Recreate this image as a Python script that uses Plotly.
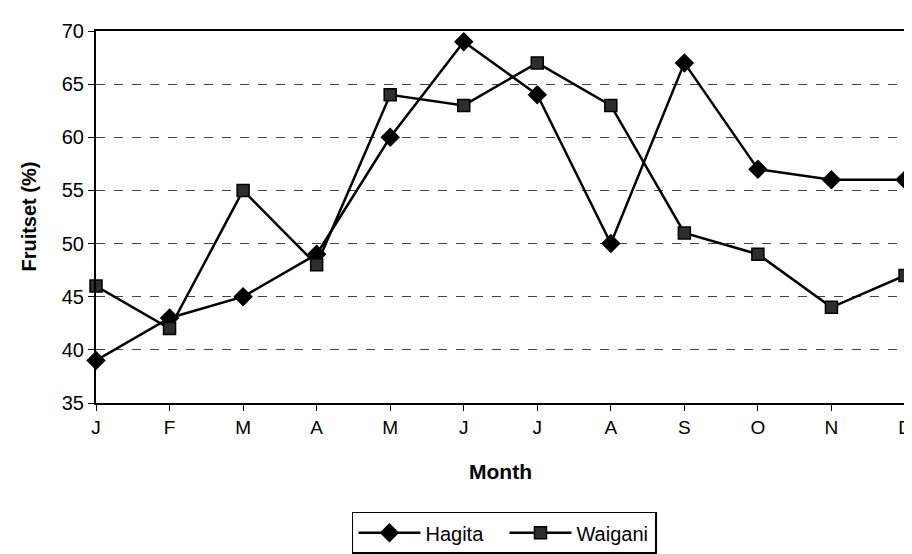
import plotly.graph_objects as go

months = ["J", "F", "M", "A", "M", "J", "J", "A", "S", "O", "N", "D"]
hagita = [39, 43, 45, 49, 60, 69, 64, 50, 67, 57, 56, 56]
waigani = [46, 42, 55, 48, 64, 63, 67, 63, 51, 49, 44, 47]
y_ticks = [35, 40, 45, 50, 55, 60, 65, 70]

x_idx = list(range(len(months)))
FONT = "Liberation Sans, Arial, sans-serif"

fig = go.Figure()
fig.add_trace(go.Scatter(
    x=x_idx, y=hagita, name="Hagita", mode="lines+markers",
    line=dict(color="black", width=2.5),
    marker=dict(symbol="diamond", size=15, color="black"),
    cliponaxis=False,
))
fig.add_trace(go.Scatter(
    x=x_idx, y=waigani, name="Waigani", mode="lines+markers",
    line=dict(color="black", width=2.5),
    marker=dict(symbol="square", size=12, color="#2e2e2e",
                line=dict(color="black", width=1.5)),
    cliponaxis=False,
))

W, H = 912, 554
L, R, T, B = 88, 8, 23, 148
pw, ph = W - L - R, H - T - B

fig.update_layout(
    width=W, height=H,
    margin=dict(l=L, r=R, t=T, b=B, pad=0),
    paper_bgcolor="white", plot_bgcolor="white",
    font=dict(family=FONT, color="black", size=18),
    showlegend=True,
    legend=dict(
        orientation="h", x=(500 - L) / pw, xanchor="center",
        y=(H - B - 518) / ph, yanchor="top",
        bordercolor="black", borderwidth=1.5, bgcolor="white",
        font=dict(size=20, family=FONT), itemwidth=62,
        entrywidth=74, entrywidthmode="pixels",
        tracegroupgap=0,
    ),
    xaxis=dict(
        range=[0, 11], tickmode="array", tickvals=x_idx, ticktext=months,
        showgrid=False, zeroline=False,
        showline=True, linecolor="black", linewidth=2, mirror=True,
        ticks="outside", ticklen=6, tickcolor="black", tickwidth=1,
        tickfont=dict(size=19, family=FONT),
    ),
    yaxis=dict(
        range=[35, 70], tickmode="array", tickvals=y_ticks,
        showgrid=True, gridcolor="#444444", griddash="dash", gridwidth=1,
        zeroline=False,
        showline=True, linecolor="black", linewidth=2, mirror=True,
        ticks="outside", ticklen=6, tickcolor="black", tickwidth=1,
        tickfont=dict(size=20, family=FONT),
    ),
    annotations=[
        dict(text="<b>Month</b>", xref="paper", yref="paper",
             x=(496 - L) / pw, y=(H - B - 477) / ph,
             xanchor="center", yanchor="middle", showarrow=False,
             font=dict(size=21, family=FONT)),
        dict(text="<b>Fruitset (%)</b>", xref="paper", yref="paper",
             x=(20 - L) / pw, y=0.5, textangle=-90,
             xanchor="center", yanchor="middle", showarrow=False,
             font=dict(size=20, family=FONT)),
    ],
)

fig.write_html("out.html")
